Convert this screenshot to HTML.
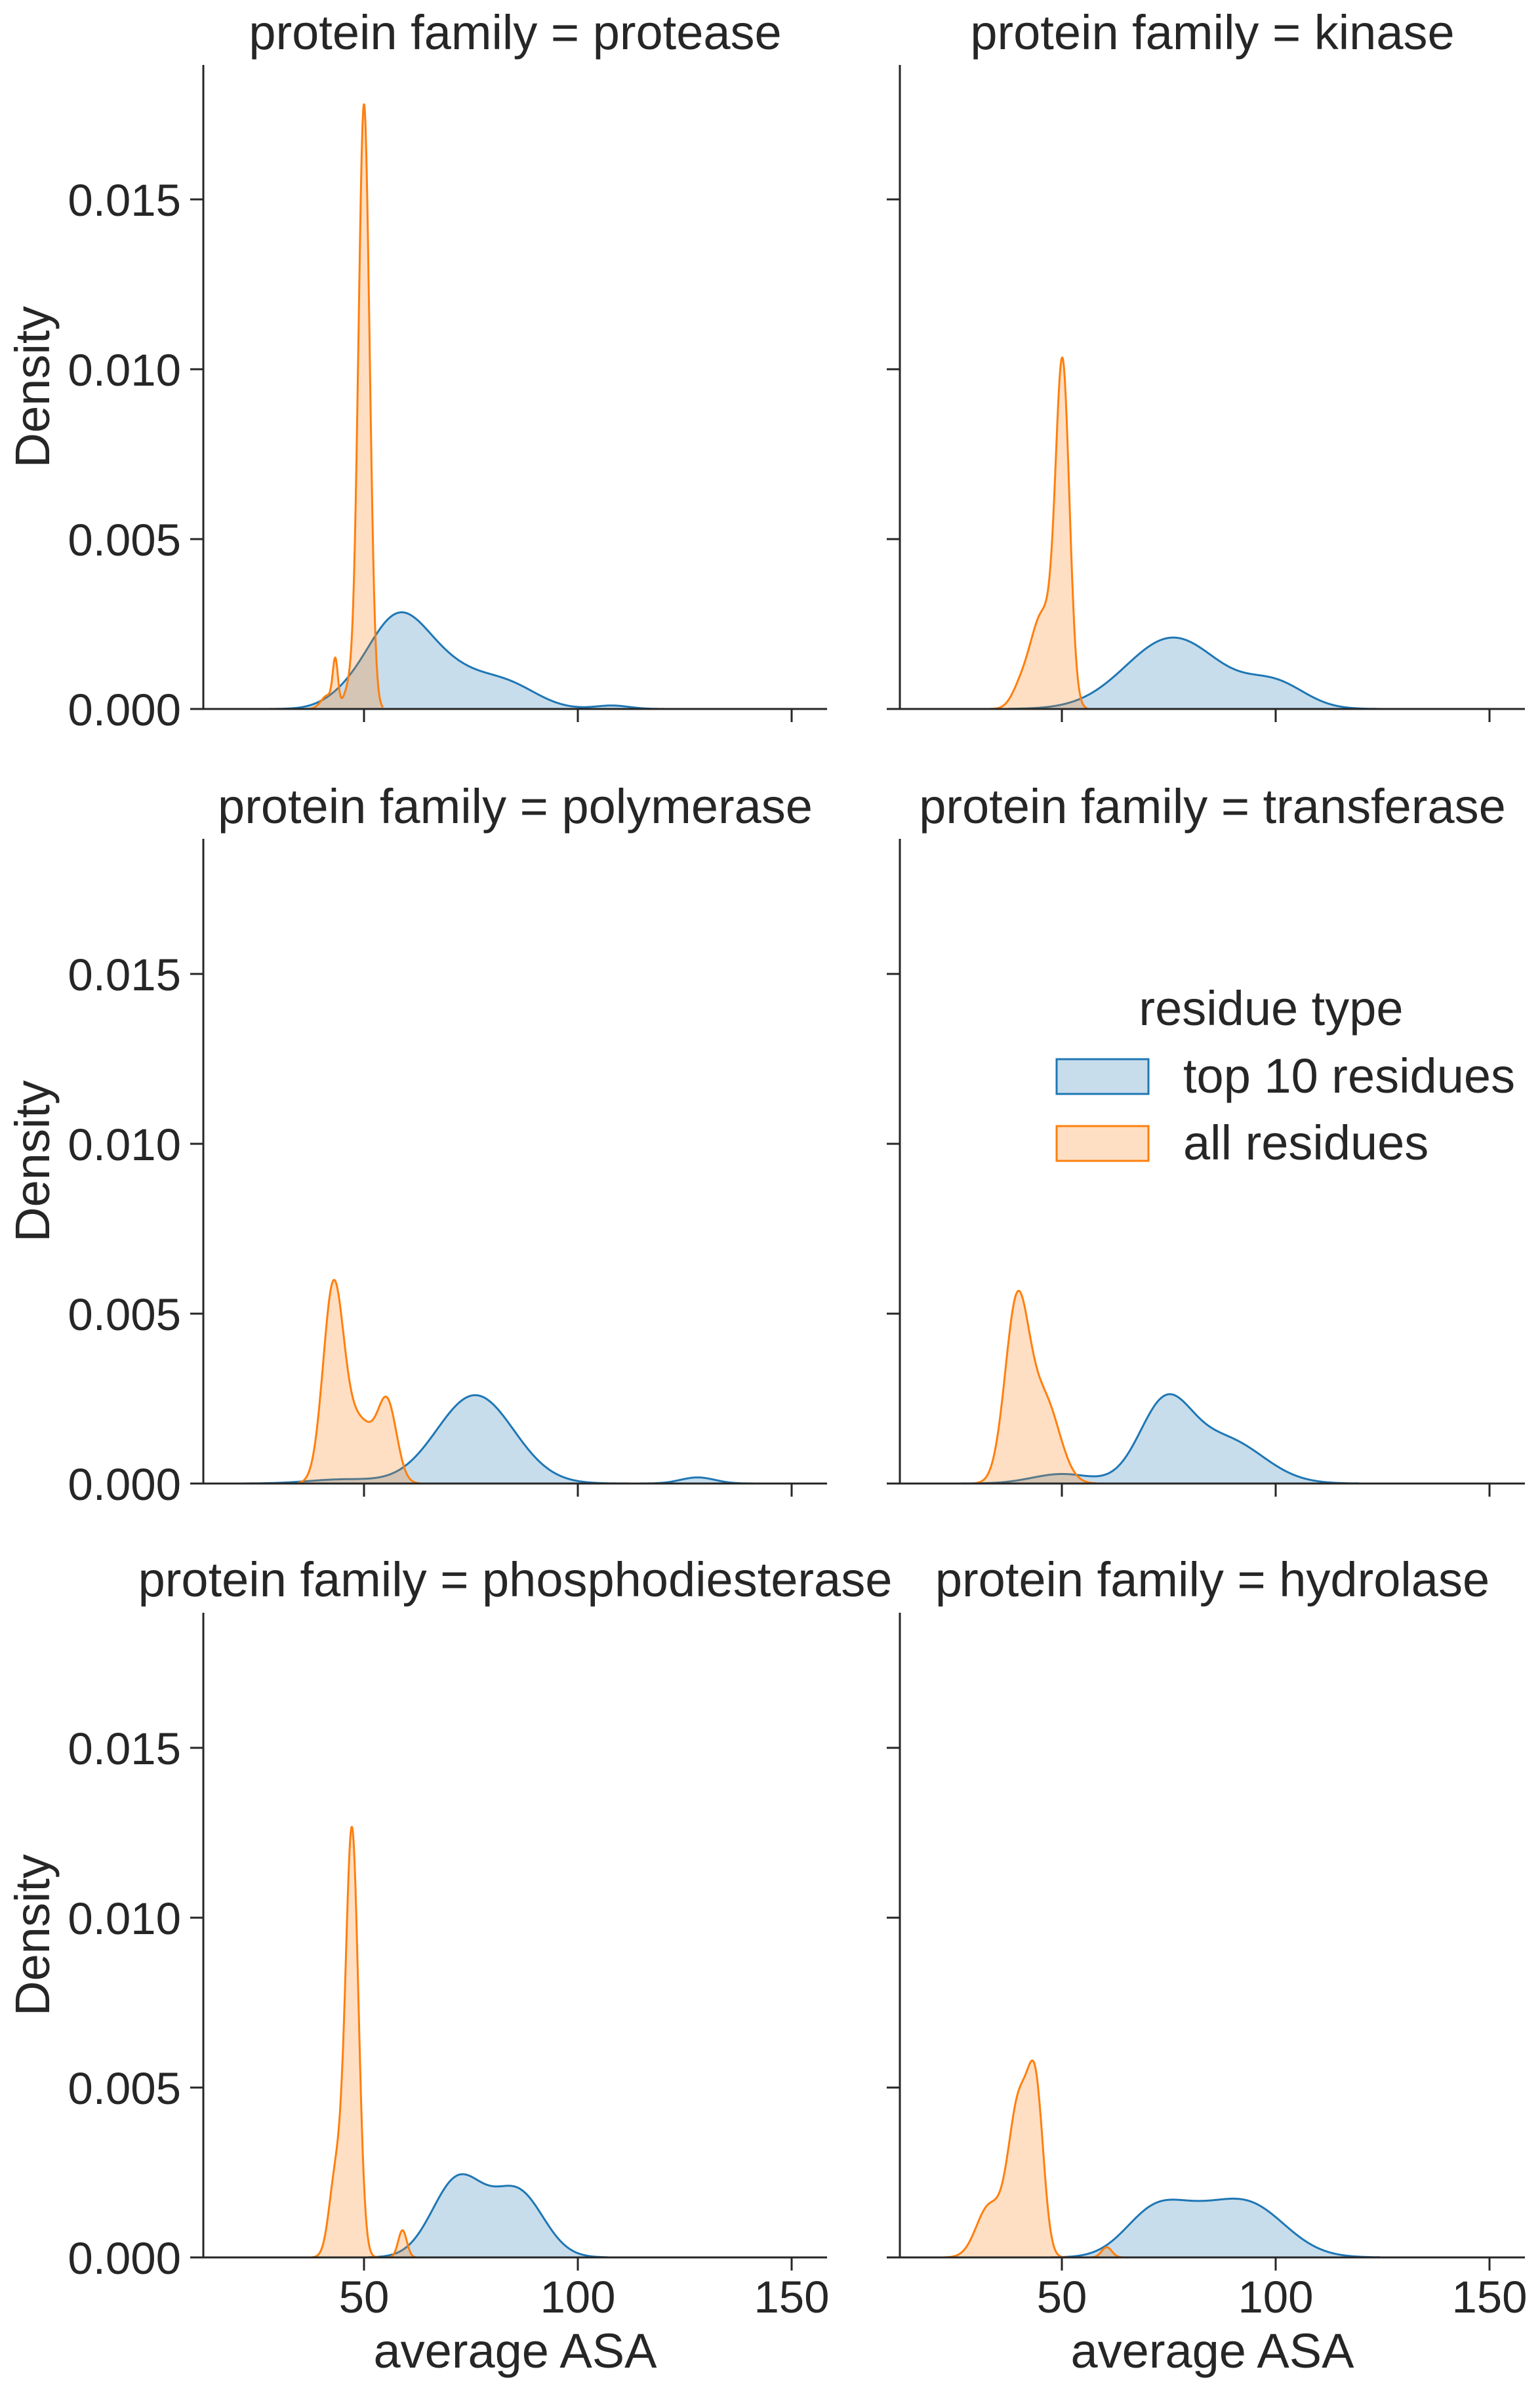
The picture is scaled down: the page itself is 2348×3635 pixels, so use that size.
<!DOCTYPE html>
<html><head><meta charset="utf-8"><style>
html,body{margin:0;padding:0;background:#fff;}
svg{display:block;font-family:"Liberation Sans",Arial,sans-serif;}
</style></head><body>
<svg id="s" width="2348" height="3635" viewBox="0 0 2348 3635" xmlns="http://www.w3.org/2000/svg">
<rect width="2348" height="3635" fill="#fff"/>
<g id="g"></g>
<g font-size="74" fill="#262626">
<text x="1938" y="1563" text-anchor="middle">residue type</text>
<rect x="1611" y="1615" width="140" height="53" fill="rgba(31,119,180,0.25)" stroke="#1f77b4" stroke-width="3"/>
<rect x="1611" y="1717" width="140" height="53" fill="rgba(255,127,14,0.25)" stroke="#ff7f0e" stroke-width="3"/>
<text x="1804" y="1666">top 10 residues</text>
<text x="1804" y="1768">all residues</text>
</g>
</svg>
<script>
const NS="http://www.w3.org/2000/svg";
const g=document.getElementById('g');
function el(t,a,txt){const e=document.createElementNS(NS,t);for(const k in a)e.setAttribute(k,a[k]);if(txt!==undefined)e.textContent=txt;g.appendChild(e);return e;}
const cols=[{ax:310,xr:1261,x50:555},{ax:1372,xr:2325,x50:1619}];
const rows=[{base:1081,top:99,ty:75},{base:2262,top:1279,ty:1255},{base:3442,top:2459,ty:2434}];
const titles=[["protease","kinase"],["polymerase","transferase"],["phosphodiesterase","hydrolase"]];
const data={
"0,0":{b:[[57,7,0.0022],[68,9,0.0012],[84,7,0.0006],[108,4,0.0001],[45,5,0.0002]],o:[[50,1.3,0.0178],[43.3,0.6,0.0013],[41.5,1.5,0.0004],[46.5,1.2,0.0006]]},
"0,1":{b:[[76,11,0.0021],[100,7,0.0007]],o:[[50.2,1.6,0.0095],[45.5,3,0.0028],[40,2,0.0004]]},
"1,0":{b:[[76,9,0.0026],[128,4,0.00018],[45,8,0.00012]],o:[[42.8,2.4,0.0056],[55.5,2.2,0.0022],[49,3.5,0.0018]]},
"1,1":{b:[[74,6,0.0022],[88,9,0.0013],[50,7,0.00028]],o:[[39.5,2.8,0.0052],[46,3.5,0.0024]]},
"2,0":{b:[[72,6,0.0023],[86,6,0.0019]],o:[[47.2,1.5,0.0125],[43.5,1.6,0.0025],[59,1,0.0008]]},
"2,1":{b:[[72,7,0.0014],[93,9,0.0016],[82,6,0.0004]],o:[[44,1.8,0.0042],[40,2.5,0.0045],[33,3,0.0015],[60.5,1.2,0.0003]]}
};
function dens(c,v){let s=0;for(const [m,sd,h] of c)s+=h*Math.exp(-0.5*((v-m)/sd)**2);return s;}
function curve(c,X,base,fill,stroke,sw){
 let lo=Infinity,hi=-Infinity;for(const [m,sd] of c){lo=Math.min(lo,m-3.5*sd);hi=Math.max(hi,m+3.5*sd);}
 lo=Math.max(lo,22);hi=Math.min(hi,152);
 let pts=[];for(let v=lo;v<=hi;v+=0.1){pts.push([X(v),base-dens(c,v)*51800]);}
 let d=pts.map((p,i)=>(i?'L':'M')+p[0].toFixed(1)+' '+p[1].toFixed(1)).join('');
 el('path',{d:d+`L${pts[pts.length-1][0].toFixed(1)} ${base}L${pts[0][0].toFixed(1)} ${base}Z`,fill:fill,stroke:'none'});
 el('path',{d:d,fill:'none',stroke:stroke,'stroke-width':sw,'stroke-linejoin':'round'});
}
rows.forEach((r,ri)=>cols.forEach((c,ci)=>{
 const X=v=>c.x50+(v-50)*6.52;
 const D=data[ri+','+ci];
 curve(D.b,X,r.base,'rgba(31,119,180,0.25)','#1f77b4',3);
 curve(D.o,X,r.base,'rgba(255,127,14,0.25)','#ff7f0e',3);
 el('line',{x1:c.ax,y1:r.top,x2:c.ax,y2:r.base,stroke:'#262626','stroke-width':3});
 el('line',{x1:c.ax-1.5,y1:r.base,x2:c.xr,y2:r.base,stroke:'#262626','stroke-width':3});
 for(let k=0;k<4;k++){const y=r.base-k*259;
  el('line',{x1:c.ax-20,y1:y,x2:c.ax,y2:y,stroke:'#262626','stroke-width':3});
  if(ci==0)el('text',{x:c.ax-34,y:y+25,'text-anchor':'end','font-size':69,fill:'#262626'},(k*0.005).toFixed(3));}
 [50,100,150].forEach(v=>{el('line',{x1:X(v),y1:r.base,x2:X(v),y2:r.base+20,stroke:'#262626','stroke-width':3});
  if(ri==2)el('text',{x:X(v),y:3526,'text-anchor':'middle','font-size':69,fill:'#262626'},v);});
 el('text',{x:(c.ax+c.xr)/2,y:r.ty,'text-anchor':'middle','font-size':74,fill:'#262626'},'protein family = '+titles[ri][ci]);
 if(ci==0){const cy=(r.top+r.base)/2;el('text',{x:0,y:0,transform:`translate(75 ${cy}) rotate(-90)`,'text-anchor':'middle','font-size':74,fill:'#262626'},'Density');}
 if(ri==2)el('text',{x:(c.ax+c.xr)/2,y:3610,'text-anchor':'middle','font-size':74,fill:'#262626'},'average ASA');
}));
</script>
</body></html>
